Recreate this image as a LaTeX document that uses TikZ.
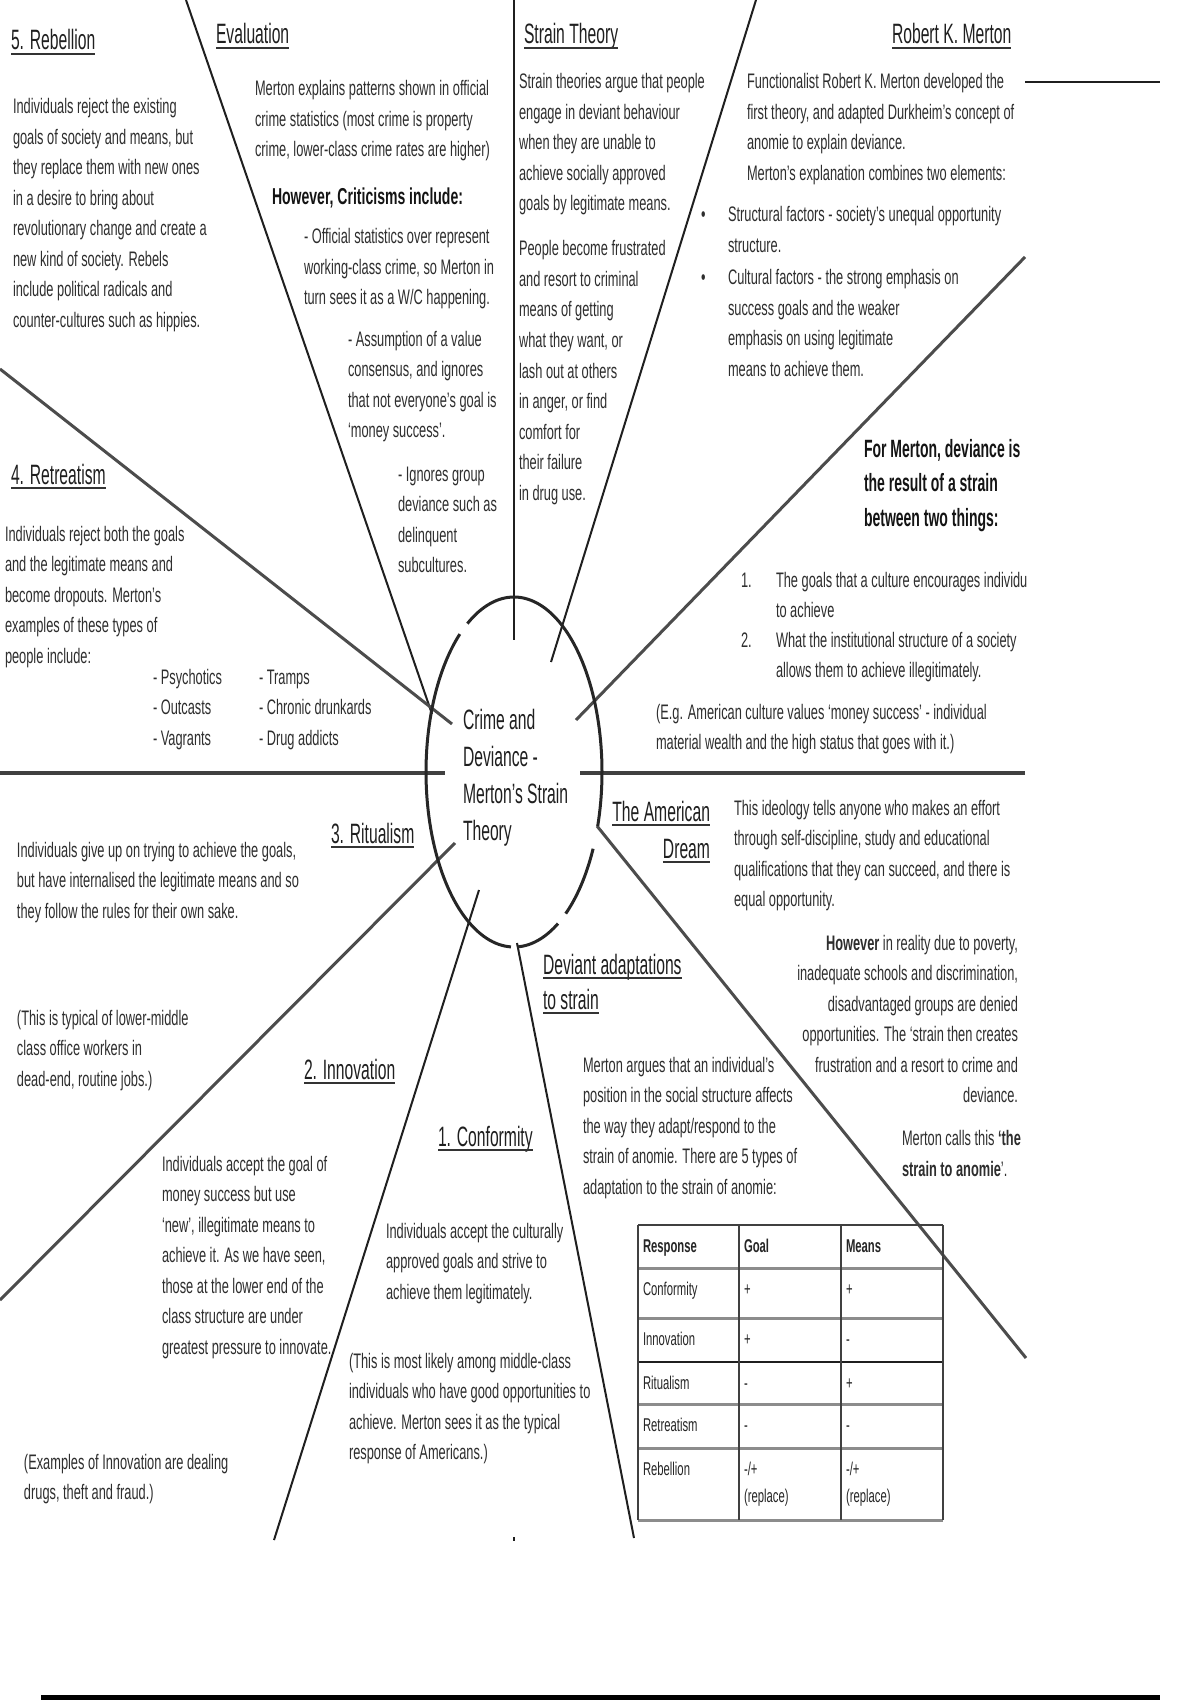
\documentclass[tikz,border=0pt]{standalone}
\usepackage{fontspec}
\setmainfont{Liberation Sans}[FakeStretch=0.61]
\newfontfamily\nfont{Liberation Sans}[FakeStretch=0.56]
\newcommand\hdrule[1]{\draw[uline] ([yshift=-2pt]#1.base west) -- ([yshift=-2pt]#1.base east);}
\tikzset{
  txt/.style={inner sep=0pt, outer sep=0pt, text=black!82},
  body/.style={txt, anchor=base west, align=left, font=\fontsize{10.5}{15.25}\selectfont},
  bodyr/.style={txt, anchor=base east, align=right, font=\fontsize{10.5}{15.25}\selectfont},
  boldt/.style={txt, anchor=base west, text=black!92, font=\fontsize{11.5}{14}\selectfont\bfseries},
  fm/.style={txt, anchor=base west, align=left, text=black!92, font=\nfont\fontsize{12.5}{17.35}\selectfont\bfseries},
  centre/.style={txt, anchor=base west, align=left, text=black!88, font=\nfont\fontsize{14}{18.5}\selectfont},
  headl/.style={txt, anchor=base west, text=black!88, font=\nfont\fontsize{14}{17}\selectfont},
  headr/.style={headl, anchor=base east},
  tab/.style={txt, anchor=base west, align=left, text=black!85, font=\fontsize{9.25}{13.5}\selectfont},
  tabb/.style={tab, font=\fontsize{9.25}{13.5}\selectfont\bfseries},
  uline/.style={draw=black!80, line width=1.2pt},
  thinl/.style={draw=black!88, line width=1pt},
  greyl/.style={draw=black!70, line width=1.5pt},
  horl/.style={draw=black!75, line width=2pt},
  ring/.style={draw=black!85, line width=1.5pt},
  trow/.style={draw=black!45, line width=1.5pt},
  tcol/.style={draw=black!75, line width=1pt},
}
\begin{document}
\begin{tikzpicture}[x=0.5pt,y=-0.5pt]
\fill[white] (0,0) rectangle (1200,1700);
\useasboundingbox (0,0) rectangle (1200,1700);

% ---------- spoke end points ----------
\coordinate (a1) at (186,0);    \coordinate (b1) at (432,714);
\coordinate (a2) at (0,369);    \coordinate (b2) at (452,724);
\coordinate (a3) at (514,0);    \coordinate (b3) at (514,640);
\coordinate (a4) at (756,0);    \coordinate (b4) at (551,662);
\coordinate (a5) at (1025,257); \coordinate (b5) at (576,720);
\coordinate (a6) at (0,773);    \coordinate (b6) at (445,773);
\coordinate (a7) at (1025,773); \coordinate (b7) at (580,773);
\coordinate (a8) at (1026,1358);\coordinate (b8) at (597,826);
\coordinate (a9) at (0,1300);   \coordinate (b9) at (455,843);
\coordinate (a10) at (274,1540);\coordinate (b10) at (479,890);
\coordinate (a11) at (634,1538);\coordinate (b11) at (517,943);
\coordinate (dt1) at (514,1537);\coordinate (dt2) at (514,1541);
\coordinate (tr1) at (1025,82); \coordinate (tr2) at (1160,82);
\coordinate (bt1) at (41,1697); \coordinate (bt2) at (1160,1697);

\draw[thinl] (a1) -- (b1);
\draw[greyl] (a2) -- (b2);
\draw[thinl] (a3) -- (b3);
\draw[thinl] (a4) -- (b4);
\draw[greyl] (a5) -- (b5);
\draw[horl] (a6) -- (b6);
\draw[horl] (a7) -- (b7);
\draw[greyl] (b8) -- (a8);
\draw[greyl] (b9) -- (a9);
\draw[thinl] (b10) -- (a10);
\draw[thinl] (b11) -- (a11);
\draw[thinl] (dt1) -- (dt2);
\draw[thinl, line width=1.3pt] (tr1) -- (tr2);
\draw[draw=black, line width=2.5pt] (bt1) -- (bt2);

% ---------- broken ring ----------
\draw[ring] plot[domain=-122:18, samples=70] ({514+88*cos(\x)},{772+175*sin(\x)});
\draw[ring] plot[domain=92:232, samples=70] ({514+88*cos(\x)},{772+175*sin(\x)});
\draw[ring] plot[domain=60:88, samples=20] ({514+88*cos(\x)},{772+175*sin(\x)});
\draw[ring] plot[domain=26:54, samples=20] ({514+88*cos(\x)},{772+175*sin(\x)});

% multi-line nodes: base anchor = baseline of the LAST line
\node[centre] (ctr) at (463,840) {Crime and\\Deviance -\\Merton’s Strain\\Theory};

% ---------- headings ----------
\node[headl] (h5) at (11,50) {5. Rebellion};
\node[headl] (hEv) at (216,44) {Evaluation};
\node[headl] (hSt) at (524,44) {Strain Theory};
\node[headl] (hMe) at (892,44) {Robert K. Merton};
\node[headl] (h4) at (11,484) {4. Retreatism};
\node[headl] (h3) at (331,843) {3. Ritualism};
\node[headr] (hAa) at (710,821) {The American};
\node[headr] (hAb) at (710,858) {Dream};
\node[headl] (hDa) at (543,974) {Deviant adaptations};
\node[headl] (hDb) at (543,1009) {to strain};
\node[headl] (h2) at (304,1079) {2. Innovation};
\node[headl] (h1) at (438,1146) {1. Conformity};
\hdrule{h5}\hdrule{hEv}\hdrule{hSt}\hdrule{hMe}\hdrule{h4}\hdrule{h3}
\hdrule{hAa}\hdrule{hAb}\hdrule{hDa}\hdrule{hDb}\hdrule{h2}\hdrule{h1}

% ---------- texts ----------
\node[body] (rebT) at (13,327.5) {Individuals reject the existing\\goals of society and means, but\\they replace them with new ones\\in a desire to bring about\\revolutionary change and create a\\new kind of society. Rebels\\include political radicals and\\counter-cultures such as hippies.};

\node[body] (evT) at (255,157) {Merton explains patterns shown in official\\crime statistics (most crime is property\\crime, lower-class crime rates are higher)};
\node[boldt] (crit) at (272,205) {However, Criticisms include:};
\node[body] (c1) at (304,305) {- Official statistics over represent\\working-class crime, so Merton in\\turn sees it as a W/C happening.};
\node[body] (c2) at (348,437.5) {- Assumption of a value\\consensus, and ignores\\that not everyone’s goal is\\‘money success’.};
\node[body] (c3) at (398,572.5) {- Ignores group\\deviance such as\\delinquent\\subcultures.};

\node[body] (stA) at (519,211) {Strain theories argue that people\\engage in deviant behaviour\\when they are unable to\\achieve socially approved\\goals by legitimate means.};
\node[body] (stB) at (519,500) {People become frustrated\\and resort to criminal\\means of getting\\what they want, or\\lash out at others\\in anger, or find\\comfort for\\their failure\\in drug use.};

\node[body] (meT) at (747,180.5) {Functionalist Robert K. Merton developed the\\first theory, and adapted Durkheim’s concept of\\anomie to explain deviance.\\Merton’s explanation combines two elements:};
\node[body] (bu1) at (701,222) {•};
\node[body] (bu1T) at (728,252.5) {Structural factors - society’s unequal opportunity\\structure.};
\node[body] (bu2) at (701,285) {•};
\node[body] (bu2T) at (728,376.5) {Cultural factors - the strong emphasis on\\success goals and the weaker\\emphasis on using legitimate\\means to achieve them.};

\node[fm] (fmT) at (864,526.4) {For Merton, deviance is\\the result of a strain\\between two things:};
\node[body] (n1) at (741,587) {1.};
\node[body] (n1T) at (776,617.5) {The goals that a culture encourages individu\\to achieve};
\node[body] (n2) at (741,647) {2.};
\node[body] (n2T) at (776,677.5) {What the institutional structure of a society\\allows them to achieve illegitimately.};
\node[body] (egT) at (656,749.5) {(E.g. American culture values ‘money success’ - individual\\material wealth and the high status that goes with it.)};

\node[body] (reT) at (5,663) {Individuals reject both the goals\\and the legitimate means and\\become dropouts. Merton’s\\examples of these types of\\people include:};
\node[body] (ls1) at (153,745) {- Psychotics\\- Outcasts\\- Vagrants};
\node[body] (ls2) at (259,745) {- Tramps\\- Chronic drunkards\\- Drug addicts};

\node[body] (riT) at (17,918) {Individuals give up on trying to achieve the goals,\\but have internalised the legitimate means and so\\they follow the rules for their own sake.};
\node[body] (riN) at (17,1086) {(This is typical of lower-middle\\class office workers in\\dead-end, routine jobs.)};

\node[body] (adT) at (734,906.5) {This ideology tells anyone who makes an effort\\through self-discipline, study and educational\\qualifications that they can succeed, and there is\\equal opportunity.};
\node[bodyr] (adH) at (1018,1102.5) {\textbf{However} in reality due to poverty,\\inadequate schools and discrimination,\\disadvantaged groups are denied\\opportunities. The ‘strain then creates\\frustration and a resort to crime and\\deviance.};
\node[body] (adM) at (902,1176) {Merton calls this \textbf{‘the}\\\textbf{strain to anomie}’.};

\node[body] (dvT) at (583,1194) {Merton argues that an individual’s\\position in the social structure affects\\the way they adapt/respond to the\\strain of anomie. There are 5 types of\\adaptation to the strain of anomie:};

\node[body] (inT) at (162,1354) {Individuals accept the goal of\\money success but use\\‘new’, illegitimate means to\\achieve it. As we have seen,\\those at the lower end of the\\class structure are under\\greatest pressure to innovate.};
\node[body] (inN) at (24,1499.5) {(Examples of Innovation are dealing\\drugs, theft and fraud.)};

\node[body] (coT) at (386,1299) {Individuals accept the culturally\\approved goals and strive to\\achieve them legitimately.};
\node[body] (coN) at (349,1459.5) {(This is most likely among middle-class\\individuals who have good opportunities to\\achieve. Merton sees it as the typical\\response of Americans.)};

% ---------- table ----------
\foreach \yy in {1268,1318,1404,1448,1520} \draw[trow] (638,\yy) -- (943,\yy);
\draw[thinl] (638,1362) -- (943,1362);
\draw[tcol] (638,1225) -- (943,1225);
\draw[tcol] (638,1225) -- (638,1520);
\draw[tcol] (739,1225) -- (739,1520);
\draw[tcol] (841,1225) -- (841,1520);
\draw[tcol] (943,1225) -- (943,1520);

\node[tabb] (t0a) at (643,1252) {Response};
\node[tabb] (t0b) at (744,1252) {Goal};
\node[tabb] (t0c) at (846,1252) {Means};
\node[tab] (t1a) at (643,1295) {Conformity};
\node[tab] (t1b) at (744,1295) {+};
\node[tab] (t1c) at (846,1295) {+};
\node[tab] (t2a) at (643,1345) {Innovation};
\node[tab] (t2b) at (744,1345) {+};
\node[tab] (t2c) at (846,1345) {-};
\node[tab] (t3a) at (643,1389) {Ritualism};
\node[tab] (t3b) at (744,1389) {-};
\node[tab] (t3c) at (846,1389) {+};
\node[tab] (t4a) at (643,1431) {Retreatism};
\node[tab] (t4b) at (744,1431) {-};
\node[tab] (t4c) at (846,1431) {-};
\node[tab] (t5a) at (643,1475) {Rebellion};
\node[tab] (t5b) at (744,1502) {-/+\\(replace)};
\node[tab] (t5c) at (846,1502) {-/+\\(replace)};
\end{tikzpicture}
\end{document}
